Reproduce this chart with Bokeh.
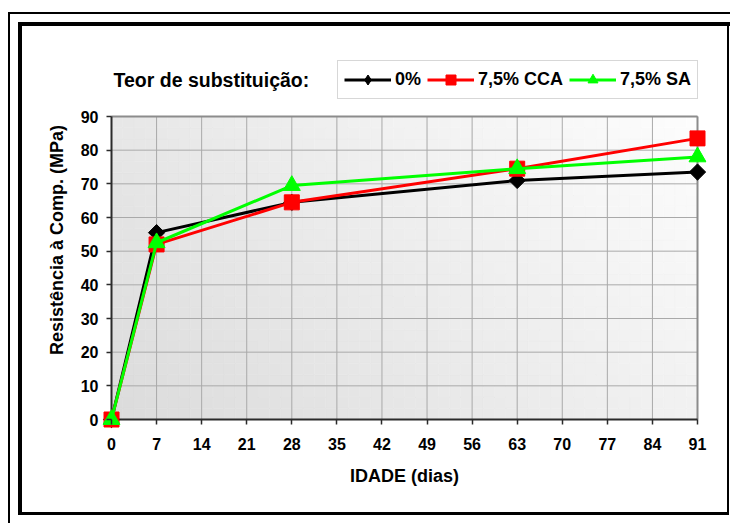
import numpy as np
from bokeh.plotting import figure
from bokeh.models import FixedTicker, Label
from bokeh.embed import file_html
from bokeh.resources import INLINE

# ---------------- data ----------------
idade = [0, 7, 28, 63, 91]
r_0 = [0.0, 55.5, 64.5, 71.0, 73.5]
r_cca = [0.0, 52.0, 64.5, 74.5, 83.5]
r_sa = [0.0, 52.5, 69.5, 74.5, 78.0]
series_names = ["0%", "7,5% CCA", "7,5% SA"]
x_ticks = [0, 7, 14, 21, 28, 35, 42, 49, 56, 63, 70, 77, 84, 91]
y_ticks = [0, 10, 20, 30, 40, 50, 60, 70, 80, 90]
legend_title = "Teor de substituição:"
x_title = "IDADE (dias)"
y_title = "Resistência à Comp. (MPa)"

# ---------------- geometry ----------------
W, H = 730, 523
ML, MR, MT, MB = 102, 24, 50, 94
frame_w = W - ML - MR
frame_h = H - MT - MB
PAD_L, PAD_R, PAD_B, PAD_T = 9, 9, 10, 66   # top pad leaves room for the legend row
x0, x1 = x_ticks[0], x_ticks[-1]
y0, y1 = y_ticks[0], y_ticks[-1]
ppx = (frame_w - PAD_L - PAD_R) / (x1 - x0)
ppy = (frame_h - PAD_B - PAD_T) / (y1 - y0)

FONT = "Liberation Sans"

# decorative page frames, drawn as CSS background rectangles (x, y, w, h)
frame_rects = [(8, 12, 722, 2), (8, 12, 2, 511), (18, 22, 712, 4),
               (18, 22, 4, 493), (18, 512, 711, 3), (727, 22, 2, 493)]
bg_css = ", ".join("linear-gradient(#000,#000) %dpx %dpx / %dpx %dpx no-repeat" % r
                   for r in frame_rects)

p = figure(
    width=W, height=H,
    x_range=(x0 - PAD_L / ppx, x1 + PAD_R / ppx),
    y_range=(y0 - PAD_B / ppy, y1 + PAD_T / ppy),
    min_border_left=ML, min_border_right=MR, min_border_top=MT, min_border_bottom=MB,
    output_backend="svg", toolbar_location=None,
    background_fill_color="white", border_fill_alpha=0,
    styles={"background": bg_css},
)
p.outline_line_color = None
p.xgrid.visible = False
p.ygrid.visible = False

# plot-area gradient background (grid of flat cells)
NCX, NCY = 52, 27
ex = np.linspace(x0, x1, NCX + 1)
ey = np.linspace(y0, y1, NCY + 1)
L, B = np.meshgrid(ex[:-1], ey[:-1])
R, T = np.meshgrid(ex[1:], ey[1:])
cu = ((L + R) / 2 - x0) / (x1 - x0)
cv = ((B + T) / 2 - y0) / (y1 - y0)
gray = np.clip(219 + 22 * cu + 12 * cv, 0, 253).round().astype(int)
cols = ["#%02x%02x%02x" % (k, k, k) for k in gray.ravel()]
p.quad(left=L.ravel(), right=R.ravel(), bottom=B.ravel(), top=T.ravel(),
       fill_color=cols, line_color=cols, line_width=0.6)

# grid lines
p.segment(x0=x_ticks, y0=[y0] * len(x_ticks), x1=x_ticks, y1=[y1] * len(x_ticks),
          line_color="#a9a9a9", line_width=1)
p.segment(x0=[x0] * len(y_ticks), y0=y_ticks, x1=[x1] * len(y_ticks), y1=y_ticks,
          line_color="#a9a9a9", line_width=1)
# plot area top/right border
p.segment(x0=[x0, x1], y0=[y1, y0], x1=[x1, x1], y1=[y1, y1],
          line_color="#8c8c8c", line_width=2)
# axis rules at the data origin
p.segment(x0=[x0, x0], y0=[y0, y0], x1=[x1, x0], y1=[y0, y1],
          line_color="#2b2b2b", line_width=2)

# series
marker_styles = [
    (r_0, "#000000", "square", 11.5, np.pi / 4, "diamond"),
    (r_cca, "#ff0000", "square", 15, 0.0, None),
    (r_sa, "#00ff00", "triangle", 17, 0.0, None),
]
for (vals, col, mk, sz, ang, legmk), name in zip(marker_styles, series_names):
    p.line(idade, vals, line_color=col, line_width=3, legend_label=name)
    if legmk is None:
        p.scatter(idade, vals, marker=mk, size=sz, angle=ang, fill_color=col,
                  line_color=col, legend_label=name)
    else:
        # legends never rotate markers: a small diamond (hidden under the
        # rotated square on the chart) provides the legend swatch
        p.scatter(idade, vals, marker=legmk, size=14, fill_color=col,
                  line_color=col, legend_label=name)
        p.scatter(idade, vals, marker=mk, size=sz, angle=ang, fill_color=col,
                  line_color=col)

# axes (ticks start at the data origin inside the padded frame)
for ax, ticks, bnds in ((p.xaxis[0], x_ticks, (x0, x1)),
                        (p.yaxis[0], y_ticks, (y0, y1))):
    ax.ticker = FixedTicker(ticks=ticks)
    ax.bounds = bnds
    ax.axis_line_color = None
    ax.major_tick_line_color = "#2b2b2b"
    ax.major_tick_line_width = 1.5
    ax.minor_tick_line_color = None
    ax.minor_tick_in = 0
    ax.minor_tick_out = 0
    ax.major_label_text_font = FONT
    ax.major_label_text_font_style = "bold"
    ax.major_label_text_font_size = "16px"
    ax.major_label_text_color = "black"
    ax.axis_label_text_font = FONT
    ax.axis_label_text_font_style = "bold"
    ax.axis_label_text_font_size = "18px"
    ax.axis_label_text_color = "black"

p.xaxis.major_tick_in = PAD_B
p.xaxis.major_tick_out = -(PAD_B - 5)
p.yaxis.major_tick_in = PAD_L
p.yaxis.major_tick_out = -(PAD_L - 5)
p.xaxis.axis_label = x_title
p.yaxis.axis_label = y_title
p.xaxis.major_label_standoff = 8
p.yaxis.major_label_standoff = 4
p.xaxis.axis_label_standoff = 13
p.yaxis.axis_label_standoff = 11

# legend title text
p.add_layout(Label(x=x0, y=y1, x_offset=2, y_offset=37, text=legend_title,
                   text_font=FONT, text_font_style="bold", text_font_size="19.5px",
                   text_color="black", text_baseline="alphabetic", text_align="left"))

lg = p.legend[0]
lg.location = (337 - ML, (H - MB) - 99)
lg.orientation = "horizontal"
lg.label_text_font = FONT
lg.label_text_font_style = "bold"
lg.label_text_font_size = "18px"
lg.label_text_color = "black"
lg.glyph_width = 47
lg.glyph_height = 25
lg.label_height = 25
lg.label_standoff = 4
lg.spacing = 6
lg.padding = 6
lg.margin = 0
lg.border_line_color = "#b0b0b0"
lg.border_line_width = 1.5
lg.background_fill_color = "white"
lg.background_fill_alpha = 1

open("out.html", "w").write(file_html(p, INLINE))
